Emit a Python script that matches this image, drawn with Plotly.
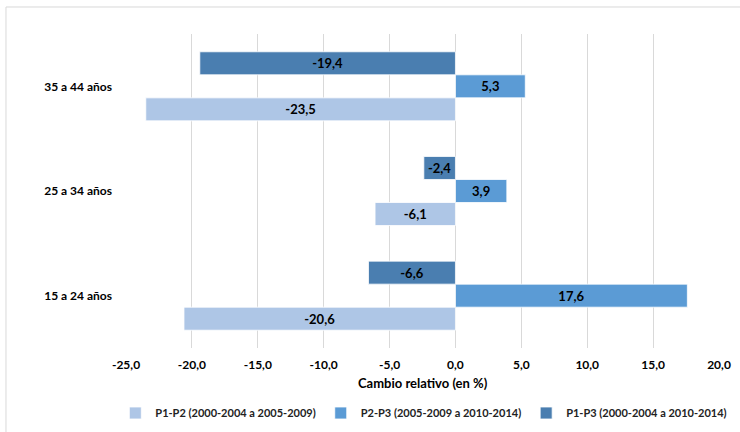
import plotly.graph_objects as go

# Age groups (bottom to top) and relative change per period comparison
grupos = ["15 a 24 años", "25 a 34 años", "35 a 44 años"]
p1_p2 = [-20.6, -6.1, -23.5]
p2_p3 = [17.6, 3.9, 5.3]
p1_p3 = [-6.6, -2.4, -19.4]

series = [
    ("P1-P2 (2000-2004 a 2005-2009)", p1_p2, "#AEC6E6"),
    ("P2-P3 (2005-2009 a 2010-2014)", p2_p3, "#5B9BD5"),
    ("P1-P3 (2000-2004 a 2010-2014)", p1_p3, "#4A7EB0"),
]

tick_vals = [-25, -20, -15, -10, -5, 0, 5, 10, 15, 20]
tick_text = ["-25,0", "-20,0", "-15,0", "-10,0", "-5,0", "0,0", "5,0", "10,0", "15,0", "20,0"]

FONT = "Lato, 'Open Sans', sans-serif"


def fmt(v):
    return f"{v:.1f}".replace(".", ",")


fig = go.Figure()
for name, vals, color in series:
    fig.add_trace(go.Bar(
        y=grupos,
        x=vals,
        name=name,
        orientation="h",
        marker=dict(color=color, line=dict(color="#FFFFFF", width=0.8)),
        text=[fmt(v) for v in vals],
        textposition="inside",
        insidetextanchor="middle",
        textangle=0,
        textfont=dict(family=FONT, size=13, color="#000000", weight="bold"),
        constraintext="none",
    ))

fig.update_layout(
    width=740,
    height=432,
    margin=dict(l=126, r=21, t=34, b=84, autoexpand=False),
    paper_bgcolor="white",
    plot_bgcolor="white",
    barmode="group",
    bargap=0.34,
    bargroupgap=0,
    font=dict(family=FONT, size=12, color="#000000"),
    showlegend=True,
    legend=dict(
        orientation="h",
        x=-0.018, xanchor="left",
        y=-0.207, yanchor="middle",
        font=dict(family=FONT, size=11, color="#222222", weight="bold"),
        itemwidth=30,
        tracegroupgap=0,
        traceorder="normal",
    ),
    xaxis=dict(
        range=[-25, 20],
        tickmode="array",
        tickvals=tick_vals,
        ticktext=tick_text,
        showgrid=True,
        gridcolor="#D9D9D9",
        gridwidth=1,
        zeroline=False,
        showline=False,
        ticks="",
        ticklabelstandoff=8,
        tickfont=dict(family=FONT, size=12, color="#000000", weight="bold"),
    ),
    yaxis=dict(
        showgrid=False,
        zeroline=False,
        showline=False,
        ticks="",
        ticklabelstandoff=13,
        tickfont=dict(family=FONT, size=12, color="#000000", weight="bold"),
    ),
    annotations=[
        dict(
            text="Cambio relativo (en %)",
            xref="paper", yref="paper",
            x=0.5, y=-0.111,
            xanchor="center", yanchor="middle",
            showarrow=False,
            font=dict(family=FONT, size=13, color="#000000", weight="bold"),
        )
    ],
    shapes=[
        # chart frame (top and left edges)
        dict(
            type="path",
            xref="paper", yref="paper",
            path="M -0.2024,-0.3 L -0.2024,1.086 L 1.1,1.086",
            line=dict(color="#D9D9D9", width=1),
        )
    ],
)

fig.write_html("out.html")
